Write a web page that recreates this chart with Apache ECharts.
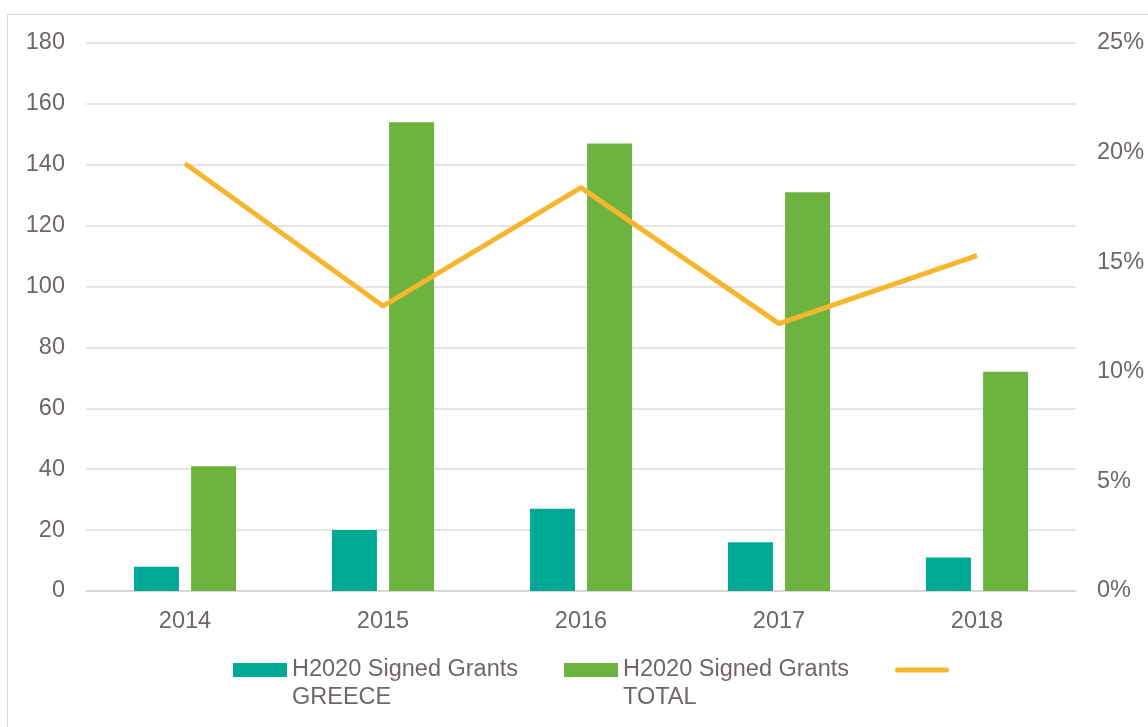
<!DOCTYPE html>
<html><head><meta charset="utf-8">
<script src="https://cdn.jsdelivr.net/npm/echarts@6/dist/echarts.min.js"></script>
<style>html,body{margin:0;padding:0;background:#fff}#c{width:1148px;height:727px}</style>
</head><body><div id="c"></div>
<script>
const years = ['2014','2015','2016','2017','2018'];
const greece = [8, 20, 27, 16, 11];
const total = [41, 154, 147, 131, 72];
const share = [0.195, 0.13, 0.184, 0.122, 0.153];
const nameGreece = 'H2020 Signed Grants\nGREECE';
const nameTotal = 'H2020 Signed Grants\nTOTAL';
const nameShare = ' ';
const txt = '#6f6767';
const font = 'Liberation Sans, Arial, sans-serif';
const chart = echarts.init(document.getElementById('c'));
chart.setOption({
  animation: false,
  graphic: [{type:'rect', shape:{x:7.5,y:14.5,width:1150,height:720}, style:{fill:'none',stroke:'#d9d9d9',lineWidth:1}, z:-1}],
  grid: {left: 86, right: 72, top: 43, bottom: 136},
  legend: {
    left: 233, top: 628, padding: 0, itemGap: 46, itemWidth: 54, itemHeight: 14,
    formatter: n => n.trim() ? '\n' + n : n,
    textStyle: {color: txt, fontSize: 23.5, fontFamily: font, lineHeight: 28},
    data: [
      {name: nameGreece, icon: 'rect'},
      {name: nameTotal, icon: 'rect'},
      {name: nameShare, icon: 'path://M2.5,0 L51.5,0 A2.5,2.5 0 0 1 51.5,5 L2.5,5 A2.5,2.5 0 0 1 2.5,0 Z', itemStyle: {color: '#f6b72f'}}
    ]
  },
  xAxis: {
    type: 'category', data: years,
    axisLine: {lineStyle: {color: '#d6d2d2', width: 1.5}},
    axisTick: {show: false},
    axisLabel: {color: txt, fontSize: 23.5, fontFamily: font, margin: 19}
  },
  yAxis: [
    {type: 'value', min: 0, max: 180, interval: 20,
     axisLine: {show: false}, axisTick: {show: false},
     splitLine: {lineStyle: {color: '#dcdcdc', width: 1.5}},
     axisLabel: {color: txt, fontSize: 23.5, fontFamily: font, margin: 21}},
    {type: 'value', min: 0, max: 0.25, interval: 0.05,
     axisLine: {show: false}, axisTick: {show: false}, splitLine: {show: false},
     axisLabel: {color: txt, fontSize: 23.5, fontFamily: font, margin: 21,
       formatter: v => Math.round(v*100) + '%'}}
  ],
  series: [
    {name: nameGreece, type: 'bar', data: greece, barWidth: 45, barGap: '27%', itemStyle: {color: '#00a896'}},
    {name: nameTotal, type: 'bar', data: total, barWidth: 45, itemStyle: {color: '#6db33f'}},
    {name: nameShare, type: 'line', yAxisIndex: 1, data: share, symbol: 'none',
     lineStyle: {color: '#f6b72f', width: 5}, itemStyle: {color: '#f6b72f'}}
  ]
});
</script></body></html>
